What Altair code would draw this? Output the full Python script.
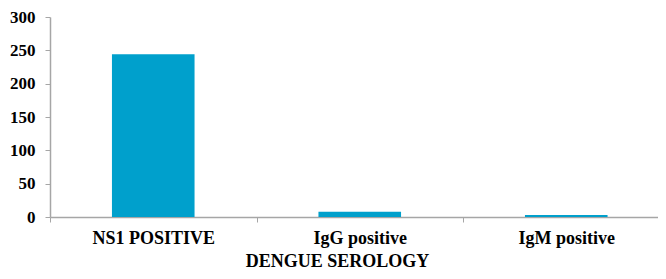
import altair as alt
import pandas as pd

categories = ["NS1 POSITIVE", "IgG positive", "IgM positive"]
values = [244, 8, 3]

df = pd.DataFrame({"cat": categories, "val": values})

FONT = "Liberation Serif"
AXIS_COLOR = "#a6a6a6"

chart = alt.Chart(df).mark_bar(color="#00A0CC", width={"band": 0.4}).encode(
    x=alt.X(
        "cat:N",
        sort=categories,
        title="DENGUE SEROLOGY",
        scale=alt.Scale(paddingInner=0, paddingOuter=0, range=[0, 619.5]),
        axis=alt.Axis(
            labelAngle=0,
            labelFont=FONT,
            labelFontSize=18,
            labelFontWeight="bold",
            labelColor="#000000",
            labelPadding=7,
            titleFont=FONT,
            titleFontSize=18,
            titleFontWeight="bold",
            titleColor="#000000",
            titleX=287,
            titleY=49,
            titleBaseline="alphabetic",
            tickBand="extent",
            tickSize=5,
            tickColor=AXIS_COLOR,
            domainColor=AXIS_COLOR,
            domainWidth=1.5,
        ),
    ),
    y=alt.Y(
        "val:Q",
        title=None,
        scale=alt.Scale(domain=[0, 300], nice=False),
        axis=alt.Axis(
            values=[0, 50, 100, 150, 200, 250, 300],
            grid=False,
            labelFont=FONT,
            labelFontSize=17,
            labelFontWeight="bold",
            labelColor="#000000",
            labelPadding=10,
            tickSize=5,
            tickColor=AXIS_COLOR,
            domainColor=AXIS_COLOR,
            domainWidth=1.5,
        ),
    ),
).properties(
    width=608,
    height=200,
    autosize=alt.AutoSizeParams(type="none"),
    padding={"left": 42, "top": 9, "right": 0, "bottom": 54},
).configure(font=FONT).configure_view(stroke=None)

chart.save("out.html", embed_options={"renderer": "svg", "actions": False})
